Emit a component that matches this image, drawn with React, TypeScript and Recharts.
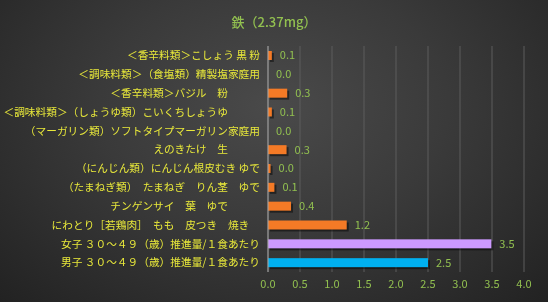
import React from "react";
import {
  BarChart,
  Bar,
  XAxis,
  YAxis,
  CartesianGrid,
  Cell,
  LabelList
} from "recharts";

const categories = [
  "＜香辛料類＞こしょう 黒 粉",
  "＜調味料類＞（食塩類）精製塩家庭用",
  "＜香辛料類＞バジル\u3000粉",
  "＜調味料類＞（しょうゆ類）こいくちしょうゆ",
  "（マーガリン類）ソフトタイプマーガリン家庭用",
  "えのきたけ\u3000生",
  "（にんじん類）にんじん根皮むき ゆで",
  "（たまねぎ類）\u3000たまねぎ\u3000りん茎\u3000ゆで",
  "チンゲンサイ\u3000葉\u3000ゆで",
  "にわとり［若鶏肉］\u3000もも\u3000皮つき\u3000焼き",
  "女子 ３０～４９（歳）推進量/１食あたり",
  "男子 ３０～４９（歳）推進量/１食あたり"
];

// number of trailing full-width blanks each label carried in the source sheet
const trailingBlanks = [0, 0, 3, 3, 0, 3, 0, 0, 3, 1, 0, 0];

const values = [0.06, 0.0, 0.3, 0.06, 0.0, 0.29, 0.04, 0.1, 0.36, 1.23, 3.49, 2.5];

const barColors = [
  "#f47a26", "#f47a26", "#f47a26", "#f47a26", "#f47a26", "#f47a26",
  "#f47a26", "#f47a26", "#f47a26", "#f47a26", "#cc99ff", "#00b0f0"
];

const xTicks = [0, 0.5, 1, 1.5, 2, 2.5, 3, 3.5, 4];

const chartData = categories.map((name, i) => ({ name, value: values[i] }));

const FONT = '"Noto Sans CJK JP", "Noto Sans", sans-serif';
const GREEN = "#92c050";
const YELLOW = "#e8e83a";
const TICK_FS = 10.7;

// bar with a soft drop shadow like the office chart
const ShadowBar = (props: any) => {
  const { x, y, width, height, fill } = props;
  if (!width || width <= 0) return null;
  return (
    <g>
      <rect x={x + 2} y={y + 2} width={width} height={height} fill="rgba(0,0,0,0.45)" />
      <rect x={x} y={y} width={width} height={height} fill={fill} />
    </g>
  );
};

// single-line category label, shifted left by its trailing blanks
const CategoryTick = (props: any) => {
  const { x, y, payload } = props;
  const idx = categories.indexOf(String(payload.value));
  const pad = idx >= 0 ? trailingBlanks[idx] : 0;
  return (
    <g transform={`translate(${Number(x) - pad * TICK_FS},${Number(y)})`}>
      <text
        x={0}
        y={0}
        dy="0.36em"
        textAnchor="end"
        fill={YELLOW}
        fontSize={TICK_FS}
        fontFamily={FONT}
      >
        {String(payload.value)}
      </text>
    </g>
  );
};

export default function App() {
  return (
    <div
      style={{
        position: "fixed",
        left: 0,
        top: 0,
        width: 548,
        height: 302,
        background: "radial-gradient(ellipse at 50% 35%, #4a4a4a 0%, #3a3a3a 45%, #222222 100%)",
        fontFamily: FONT
      }}
    >
      <div
        style={{
          position: "absolute",
          top: 12,
          left: 0,
          width: 548,
          textAlign: "center",
          color: GREEN,
          fontSize: 13,
          fontWeight: 500
        }}
      >
        鉄（2.37mg）
      </div>
      <BarChart
        width={548}
        height={302}
        data={chartData}
        layout="vertical"
        margin={{ top: 46, right: 24, bottom: 0, left: 0 }}
        barSize={9}
      >
        <CartesianGrid horizontal={false} stroke="#5c5c5c" />
        <XAxis
          type="number"
          domain={[0, 4]}
          ticks={xTicks}
          tickFormatter={(v: number) => v.toFixed(1)}
          axisLine={false}
          tickLine={false}
          height={30}
          tick={{ fill: GREEN, fontSize: 11, fontFamily: FONT }}
        />
        <YAxis
          type="category"
          dataKey="name"
          width={268}
          interval={0}
          axisLine={{ stroke: "#a6a6a6" }}
          tickLine={false}
          tick={CategoryTick}
        />
        <Bar dataKey="value" shape={<ShadowBar />} isAnimationActive={false}>
          {chartData.map((d, i) => (
            <Cell key={`c-${i}`} fill={barColors[i]} />
          ))}
          <LabelList
            dataKey="value"
            position="right"
            offset={8}
            formatter={(v: any) => Number(v).toFixed(1)}
            style={{ fill: GREEN, fontSize: 11, fontFamily: FONT }}
          />
        </Bar>
      </BarChart>
    </div>
  );
}
